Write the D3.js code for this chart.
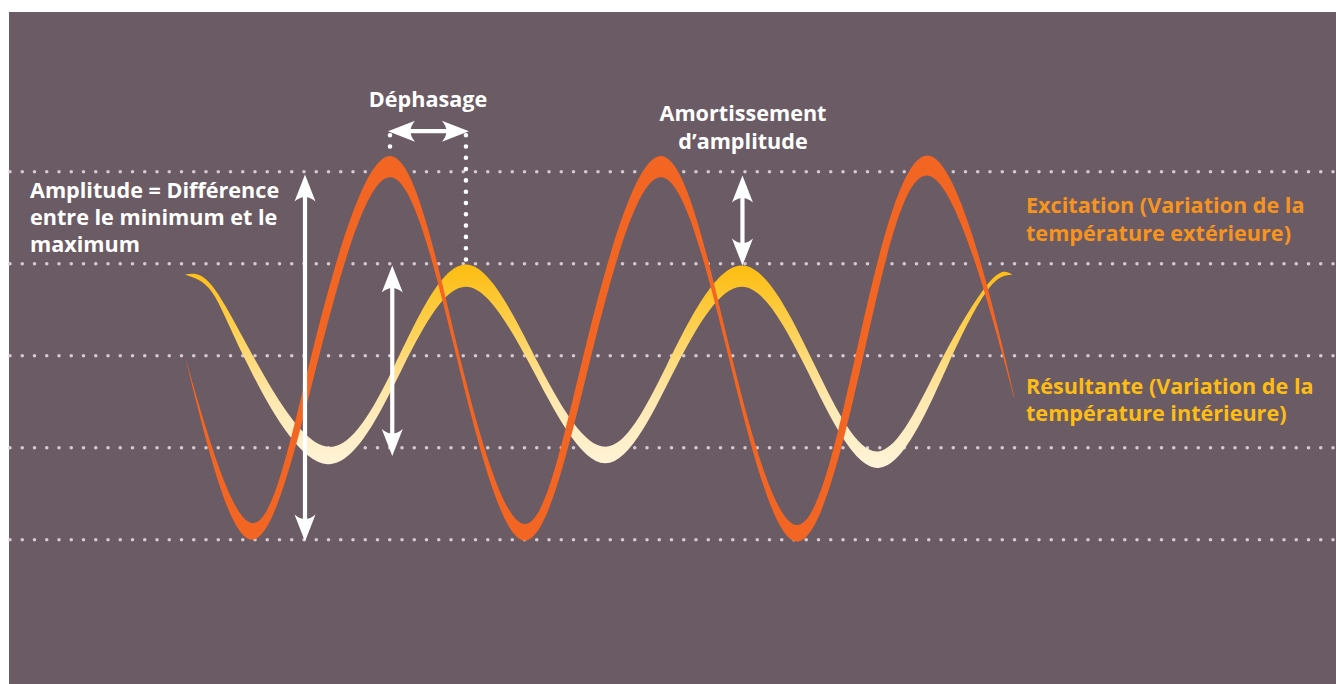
<!DOCTYPE html>
<html><head><meta charset="utf-8">
<script src="https://cdn.jsdelivr.net/npm/d3@7"></script>
<style>html,body{margin:0;padding:0;background:#fff;} svg{display:block}</style>
</head><body>
<svg id="c" width="1336" height="684"></svg>
<script>
// ---------- data (time in hours, temperature level in grid units) ----------
const gridLevels = [-2, -1, 0, 1, 2];

// Excitation ribbon (outer temperature): upper edge and lower edge key points [hour, level]
const excitUpper = [[-0.1, 0.0], [5.9, -1.82], [11.2, 0.07], [18.0, 2.17], [24.0, 0.07], [29.9, -1.83],
  [35.2, 0.07], [41.9, 2.17], [48.0, 0.07], [53.9, -1.84], [59.2, 0.07], [65.7, 2.17], [72.1, 0.07], [72.9, -0.40]];
const excitLower = [[-0.1, 0.0], [5.9, -2.00], [11.9, 0.07], [18.0, 1.94], [23.7, 0.07], [29.9, -2.01],
  [35.9, 0.07], [41.9, 1.94], [47.7, 0.07], [53.9, -2.02], [59.9, 0.07], [65.7, 1.95], [71.9, 0.07], [72.9, -0.40]];

// Résultante ribbon (inner temperature)
const resultUpper = [[-0.1, 0.88], [2.3, 0.76], [6.4, -0.11], [12.5, -0.99], [18.4, -0.11], [24.7, 0.99],
  [31.2, -0.11], [37.0, -0.99], [42.4, -0.11], [49.0, 0.98], [55.5, -0.11], [61.1, -1.04], [66.4, -0.11], [70.9, 0.80], [72.9, 0.88]];
const resultLower = [[-0.1, 0.88], [2.3, 0.69], [5.5, -0.11], [12.5, -1.18], [19.2, -0.11], [24.7, 0.75],
  [30.4, -0.11], [37.0, -1.17], [43.3, -0.11], [49.0, 0.75], [54.6, -0.11], [61.1, -1.22], [67.2, -0.11], [70.9, 0.74], [72.9, 0.88]];

// Annotation arrows: [hour, lowerTipLevel, upperTipLevel]
const verticalArrows = [[10.5, -2.02, 1.97], [18.2, -1.09, 0.98], [49.1, 0.98, 1.96]];
const phasePeaks = [18.0, 24.7];          // peak of excitation, peak of résultante
const phasePeakLevels = [2.17, 0.99];
const phaseArrowLevel = 2.44;

const labelDephasage = ["Déphasage"];
const labelAmortissement = ["Amortissement", "d’amplitude"];
const labelAmplitude = ["Amplitude = Différence", "entre le minimum et le", "maximum"];
const labelExcitation = ["Excitation (Variation de la", "température extérieure)"];
const labelResultante = ["Résultante (Variation de la", "température intérieure)"];

// ---------- drawing ----------
const svg = d3.select("#c");
const W = 1336, H = 684;
const x = d3.scaleLinear().domain([0, 72]).range([186, 1002]);
const y = d3.scaleLinear().domain([-2, 2]).range([539.7, 171.7]);

const BG = "#6b5b65";
svg.append("rect").attr("x", 9).attr("y", 12).attr("width", W - 9).attr("height", H - 12).attr("fill", BG);

const defs = svg.append("defs");
const grad = defs.append("linearGradient").attr("id", "yel").attr("gradientUnits", "userSpaceOnUse")
  .attr("x1", 0).attr("x2", 0).attr("y1", y(0.99)).attr("y2", y(-1.22));
[[0, "#fdbd10"], [0.3, "#fdcf4f"], [0.65, "#fee7ad"], [1, "#fff4da"]].forEach(([o, c]) =>
  grad.append("stop").attr("offset", o).attr("stop-color", c));

// grid dotted lines
svg.append("g").selectAll("line").data(gridLevels).join("line")
  .attr("x1", 10).attr("x2", W).attr("y1", d => y(d)).attr("y2", d => y(d))
  .attr("stroke", "#d5c9d3").attr("stroke-width", 3.6).attr("stroke-linecap", "round")
  .attr("stroke-dasharray", "0 12.25");

function ribbon(upper, lower) {
  const rows = upper.map((u, i) => ({ u, l: lower[i] }));
  return d3.area().curve(d3.curveNatural)
    .x1(d => x(d.u[0])).y1(d => y(d.u[1]))
    .x0(d => x(d.l[0])).y0(d => y(d.l[1]))(rows);
}

svg.append("path").attr("d", ribbon(resultUpper, resultLower)).attr("fill", "url(#yel)");
svg.append("path").attr("d", ribbon(excitUpper, excitLower)).attr("fill", "#f26522");

// vertical dotted lines for Déphasage
const dotG = svg.append("g");
phasePeaks.forEach((t, i) => {
  dotG.append("line").attr("x1", x(t)).attr("x2", x(t))
    .attr("y1", y(phaseArrowLevel) + 4).attr("y2", y(phasePeakLevels[i]))
    .attr("stroke", "#fff").attr("stroke-width", 4.6).attr("stroke-linecap", "round")
    .attr("stroke-dasharray", "0 11.3");
});

// arrows
const AL = 27, AW = 10.5, AN = 7;
function arrow(x1, y1, x2, y2) {
  const g = svg.append("g");
  const dx = x2 - x1, dy = y2 - y1, len = Math.hypot(dx, dy);
  const ux = dx / len, uy = dy / len;
  g.append("line")
    .attr("x1", x1 + ux * (AL - AN - 1)).attr("y1", y1 + uy * (AL - AN - 1))
    .attr("x2", x2 - ux * (AL - AN - 1)).attr("y2", y2 - uy * (AL - AN - 1))
    .attr("stroke", "#fff").attr("stroke-width", 4.2);
  const head = `M0,0 L${-AL},${-AW} Q${-AL + AN + 2},0 ${-AL},${AW} Z`;
  const ang = Math.atan2(dy, dx) * 180 / Math.PI;
  g.append("path").attr("d", head).attr("fill", "#fff")
    .attr("transform", `translate(${x2},${y2}) rotate(${ang})`);
  g.append("path").attr("d", head).attr("fill", "#fff")
    .attr("transform", `translate(${x1},${y1}) rotate(${ang + 180})`);
}
verticalArrows.forEach(([t, a, b]) => arrow(x(t), y(a), x(t), y(b)));
arrow(x(phasePeaks[0]) - 2, y(phaseArrowLevel), x(phasePeaks[1]) + 3, y(phaseArrowLevel));

// text
const FONT = "'Open Sans', sans-serif";
function lines(arr, x0, y0, lh, anchor, color) {
  const t = svg.append("text").attr("font-family", FONT).attr("font-weight", 700)
    .attr("font-size", 21.6).attr("fill", color).attr("text-anchor", anchor);
  arr.forEach((s, i) => t.append("tspan").attr("x", x0).attr("y", y0 + i * lh).text(s));
}
lines(labelDephasage, 428, 107, 27, "middle", "#fff");
lines(labelAmortissement, 743, 121, 27.5, "middle", "#fff");
lines(labelAmplitude, 30, 198.2, 27, "start", "#fff");
lines(labelExcitation, 1026, 213, 27.5, "start", "#f7941d");
lines(labelResultante, 1026, 394, 27, "start", "#fdbd14");
</script>
</body></html>
